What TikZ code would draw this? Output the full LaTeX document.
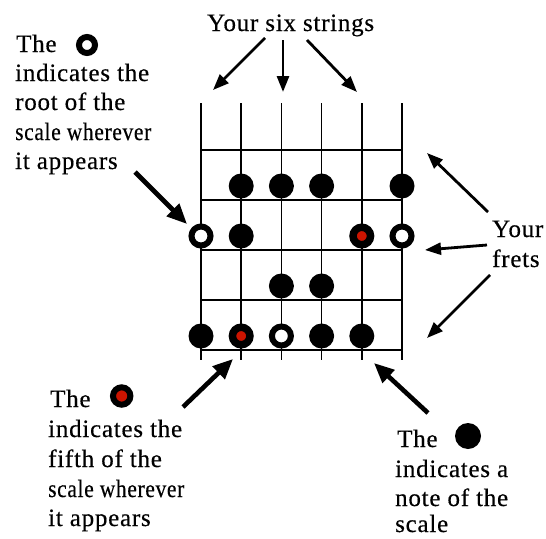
\documentclass[tikz,border=0pt]{standalone}
\usepackage{fontspec}
\setmainfont{Liberation Serif}[LetterSpace=3,FakeBold=0.4]
\usetikzlibrary{arrows.meta}
\definecolor{fifthred}{RGB}{204,20,0}
\begin{document}
\begin{tikzpicture}[x=1pt,y=-1pt,
  lbl/.style={anchor=base west,inner sep=0pt,font=\fontsize{25}{30}\selectfont},
  thinarrow/.style={line width=2.8pt,-{Triangle[length=16pt,width=12pt]}},
  thickarrow/.style={line width=4.6pt,-{Triangle[length=20pt,width=17pt]}},
  fb/.style={line width=1.7pt},
  note/.style={circle,fill=black,minimum size=25pt,inner sep=0pt},
  root/.style={circle,draw=black,fill=white,line width=6pt,minimum size=19pt,inner sep=0pt},
  fifth/.style={circle,draw=black,fill=fifthred,line width=7.5pt,minimum size=17.5pt,inner sep=0pt},
]
\useasboundingbox (0,0) rectangle (546,538);
% fretboard
\foreach \i in {0,...,5} \draw[fb] ({201+40.2*\i},103) -- ({201+40.2*\i},360);
\foreach \y in {150,200,250,300,350} \draw[fb] (201,\y) -- (402,\y);
% row 1
\node[note] (r1s2) at (241.2,186) {};
\node[note] (r1s3) at (281.4,186) {};
\node[note] (r1s4) at (321.6,186) {};
\node[note] (r1s6) at (402,186) {};
% row 2
\node[root] (r2s1) at (201,236) {};
\node[note] (r2s2) at (241.2,236) {};
\node[fifth] (r2s5) at (361.8,236) {};
\node[root] (r2s6) at (402,236) {};
% row 3
\node[note] (r3s3) at (281.4,286) {};
\node[note] (r3s4) at (321.6,286) {};
% row 4
\node[note] (r4s1) at (201,336) {};
\node[fifth] (r4s2) at (241.2,336) {};
\node[root] (r4s3) at (281.4,336) {};
\node[note] (r4s4) at (321.6,336) {};
\node[note] (r4s5) at (361.8,336) {};
% labels
\node[lbl] (strings) at (207,31) {Your six strings};
\node[lbl] (rootA) at (16,52) {The};
\node[root,line width=6pt,minimum size=16pt] (rooticon) at (87,45) {};
\node[lbl] (rootB) at (15,81) {indicates the};
\node[lbl] (rootC) at (15,110) {root of the};
\node[lbl] (rootD) at (15,140) {\scalebox{0.86}[1]{scale wherever}};
\node[lbl] (rootE) at (15,169) {it appears};
\node[lbl] (fretA) at (492,237) {Your};
\node[lbl] (fretB) at (492,267) {frets};
\node[lbl] (fifA) at (50,407) {The};
\node[fifth,line width=6pt,minimum size=17.4pt] (fificon) at (121.7,396) {};
\node[lbl] (fifB) at (48,437) {indicates the};
\node[lbl] (fifC) at (48,467) {fifth of the};
\node[lbl] (fifD) at (48,497) {\scalebox{0.86}[1]{scale wherever}};
\node[lbl] (fifE) at (48,526) {it appears};
\node[lbl] (noteA) at (397,447) {The};
\node[note,minimum size=26pt] (noteicon) at (468,436) {};
\node[lbl] (noteB) at (395,477) {indicates a};
\node[lbl] (noteC) at (395,506) {note of the};
\node[lbl] (noteD) at (395,532) {scale};
% arrow ends
\coordinate (t1) at (265,38);  \coordinate (h1) at (213,90);
\coordinate (t2) at (283,40);  \coordinate (h2) at (283,92);
\coordinate (t3) at (307,40);  \coordinate (h3) at (357,92);
\coordinate (tr) at (135,172); \coordinate (hr) at (187,224);
\coordinate (tf1) at (488,212); \coordinate (hf1) at (427,153);
\coordinate (tf2) at (487,245); \coordinate (hf2) at (425,250);
\coordinate (tf3) at (490,275); \coordinate (hf3) at (427,338);
\coordinate (tv) at (183,407); \coordinate (hv) at (233,359);
\coordinate (tn) at (428,413); \coordinate (hn) at (374,363);
\draw[thinarrow] (t1) -- (h1);
\draw[thinarrow] (t2) -- (h2);
\draw[thinarrow] (t3) -- (h3);
\draw[thickarrow] (tr) -- (hr);
\draw[thinarrow] (tf1) -- (hf1);
\draw[thinarrow] (tf2) -- (hf2);
\draw[thinarrow] (tf3) -- (hf3);
\draw[thickarrow] (tv) -- (hv);
\draw[thickarrow] (tn) -- (hn);
\end{tikzpicture}
\end{document}
